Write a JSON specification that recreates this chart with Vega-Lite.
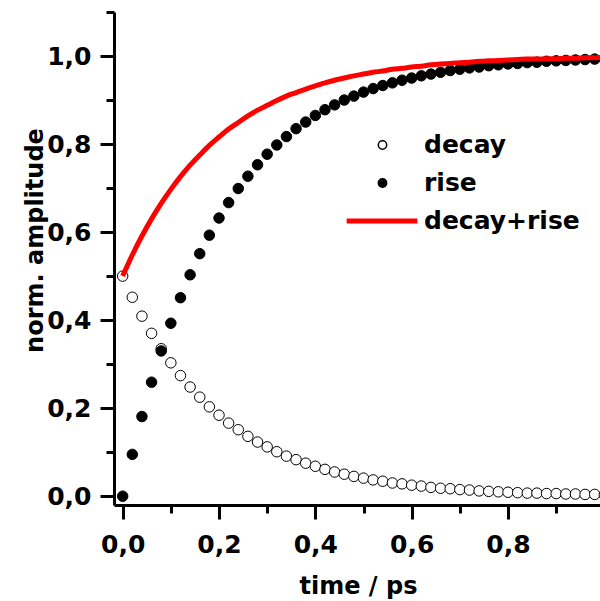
{
  "$schema": "https://vega.github.io/schema/vega-lite/v6.json",
  "autosize": {"type": "none"},
  "padding": {"left": 114, "top": 12, "right": 0, "bottom": 96},
  "width": 486,
  "height": 493,
  "background": "white",
  "config": {
    "view": {"stroke": null},
    "font": "DejaVu Sans",
    "axis": {
      "domainColor": "black",
      "domainWidth": 3,
      "tickColor": "black",
      "tickWidth": 3,
      "grid": false,
      "labelFont": "DejaVu Sans",
      "labelFontWeight": "bold",
      "labelFontSize": 25,
      "labelColor": "black",
      "titleFont": "DejaVu Sans",
      "titleFontWeight": "bold",
      "titleFontSize": 24,
      "titleColor": "black"
    },
    "legend": {
      "orient": "none",
      "padding": 0,
      "clipHeight": 30,
      "rowPadding": 8,
      "labelFont": "DejaVu Sans",
      "labelFontWeight": "bold",
      "labelFontSize": 25,
      "labelColor": "black",
      "labelLimit": 400,
      "symbolOpacity": 1
    }
  },
  "datasets": {
    "curves": [
      {"t": 0.00, "decay": 0.500, "rise": 0.000, "decay+rise": 0.500},
      {"t": 0.02, "decay": 0.452, "rise": 0.095, "decay+rise": 0.548},
      {"t": 0.04, "decay": 0.409, "rise": 0.181, "decay+rise": 0.591},
      {"t": 0.06, "decay": 0.370, "rise": 0.259, "decay+rise": 0.630},
      {"t": 0.08, "decay": 0.335, "rise": 0.330, "decay+rise": 0.665},
      {"t": 0.10, "decay": 0.303, "rise": 0.393, "decay+rise": 0.697},
      {"t": 0.12, "decay": 0.274, "rise": 0.451, "decay+rise": 0.726},
      {"t": 0.14, "decay": 0.248, "rise": 0.503, "decay+rise": 0.752},
      {"t": 0.16, "decay": 0.225, "rise": 0.551, "decay+rise": 0.775},
      {"t": 0.18, "decay": 0.203, "rise": 0.593, "decay+rise": 0.797},
      {"t": 0.20, "decay": 0.184, "rise": 0.632, "decay+rise": 0.816},
      {"t": 0.22, "decay": 0.166, "rise": 0.667, "decay+rise": 0.834},
      {"t": 0.24, "decay": 0.151, "rise": 0.699, "decay+rise": 0.849},
      {"t": 0.26, "decay": 0.136, "rise": 0.727, "decay+rise": 0.864},
      {"t": 0.28, "decay": 0.123, "rise": 0.753, "decay+rise": 0.877},
      {"t": 0.30, "decay": 0.112, "rise": 0.777, "decay+rise": 0.888},
      {"t": 0.32, "decay": 0.101, "rise": 0.798, "decay+rise": 0.899},
      {"t": 0.34, "decay": 0.091, "rise": 0.817, "decay+rise": 0.909},
      {"t": 0.36, "decay": 0.083, "rise": 0.835, "decay+rise": 0.917},
      {"t": 0.38, "decay": 0.075, "rise": 0.850, "decay+rise": 0.925},
      {"t": 0.40, "decay": 0.068, "rise": 0.865, "decay+rise": 0.932},
      {"t": 0.42, "decay": 0.061, "rise": 0.878, "decay+rise": 0.939},
      {"t": 0.44, "decay": 0.055, "rise": 0.889, "decay+rise": 0.945},
      {"t": 0.46, "decay": 0.050, "rise": 0.900, "decay+rise": 0.950},
      {"t": 0.48, "decay": 0.045, "rise": 0.909, "decay+rise": 0.955},
      {"t": 0.50, "decay": 0.041, "rise": 0.918, "decay+rise": 0.959},
      {"t": 0.52, "decay": 0.037, "rise": 0.926, "decay+rise": 0.963},
      {"t": 0.54, "decay": 0.034, "rise": 0.933, "decay+rise": 0.966},
      {"t": 0.56, "decay": 0.030, "rise": 0.939, "decay+rise": 0.970},
      {"t": 0.58, "decay": 0.028, "rise": 0.945, "decay+rise": 0.972},
      {"t": 0.60, "decay": 0.025, "rise": 0.950, "decay+rise": 0.975},
      {"t": 0.62, "decay": 0.023, "rise": 0.955, "decay+rise": 0.977},
      {"t": 0.64, "decay": 0.020, "rise": 0.959, "decay+rise": 0.980},
      {"t": 0.66, "decay": 0.018, "rise": 0.963, "decay+rise": 0.982},
      {"t": 0.68, "decay": 0.017, "rise": 0.967, "decay+rise": 0.983},
      {"t": 0.70, "decay": 0.015, "rise": 0.970, "decay+rise": 0.985},
      {"t": 0.72, "decay": 0.014, "rise": 0.973, "decay+rise": 0.986},
      {"t": 0.74, "decay": 0.012, "rise": 0.975, "decay+rise": 0.988},
      {"t": 0.76, "decay": 0.011, "rise": 0.978, "decay+rise": 0.989},
      {"t": 0.78, "decay": 0.010, "rise": 0.980, "decay+rise": 0.990},
      {"t": 0.80, "decay": 0.009, "rise": 0.982, "decay+rise": 0.991},
      {"t": 0.82, "decay": 0.008, "rise": 0.983, "decay+rise": 0.992},
      {"t": 0.84, "decay": 0.007, "rise": 0.985, "decay+rise": 0.993},
      {"t": 0.86, "decay": 0.007, "rise": 0.986, "decay+rise": 0.993},
      {"t": 0.88, "decay": 0.006, "rise": 0.988, "decay+rise": 0.994},
      {"t": 0.90, "decay": 0.006, "rise": 0.989, "decay+rise": 0.994},
      {"t": 0.92, "decay": 0.005, "rise": 0.990, "decay+rise": 0.995},
      {"t": 0.94, "decay": 0.005, "rise": 0.991, "decay+rise": 0.995},
      {"t": 0.96, "decay": 0.004, "rise": 0.992, "decay+rise": 0.996},
      {"t": 0.98, "decay": 0.004, "rise": 0.993, "decay+rise": 0.996},
      {"t": 1.00, "decay": 0.003, "rise": 0.993, "decay+rise": 0.997}
    ]
  },
  "data": {"name": "curves"},
  "transform": [
    {"fold": ["decay", "rise", "decay+rise"], "as": ["series", "amplitude"]}
  ],
  "encoding": {
    "x": {
      "field": "t",
      "type": "quantitative",
      "scale": {"domain": [-0.018, 0.991], "nice": false, "zero": false},
      "axis": {
        "title": "time / ps",
        "values": [0, 0.1, 0.2, 0.3, 0.4, 0.5, 0.6, 0.7, 0.8, 0.9, 1.0],
        "labelExpr": "round(datum.value * 10) % 2 == 0 ? replace(format(datum.value, '.1f'), '.', ',') : ''",
        "tickSize": {"condition": {"test": "round(datum.value * 10) % 2 == 0", "value": 14}, "value": 8},
        "labelPadding": 33,
        "labelBaseline": "alphabetic",
        "labelFlush": false,
        "labelOverlap": false,
        "titleX": 244,
        "titleY": 88,
        "titleAlign": "center",
        "titleBaseline": "alphabetic"
      }
    },
    "y": {
      "field": "amplitude",
      "type": "quantitative",
      "scale": {"domain": [-0.02, 1.1], "nice": false, "zero": false},
      "axis": {
        "title": "norm. amplitude",
        "values": [0, 0.1, 0.2, 0.3, 0.4, 0.5, 0.6, 0.7, 0.8, 0.9, 1.0, 1.1],
        "labelExpr": "round(datum.value * 10) % 2 == 0 ? replace(format(datum.value, '.1f'), '.', ',') : ''",
        "tickSize": {"condition": {"test": "round(datum.value * 10) % 2 == 0", "value": 14}, "value": 8},
        "labelPadding": 9,
        "labelBaseline": "middle",
        "labelFlush": false,
        "labelOverlap": false,
        "titleX": -72,
        "titleY": 228,
        "titleAngle": 270,
        "titleAlign": "center",
        "titleBaseline": "alphabetic"
      }
    }
  },
  "layer": [
    {
      "data": {"values": [{}]},
      "mark": {"type": "rule", "color": "black", "strokeWidth": 3},
      "encoding": {"y": {"datum": 1.1}}
    },
    {
      "transform": [{"filter": "datum.series != 'decay+rise'"}],
      "mark": {"type": "point", "shape": "circle", "filled": false, "opacity": 1, "size": 110, "strokeWidth": 1, "clip": true},
      "encoding": {
        "fill": {
          "field": "series", "type": "nominal",
          "scale": {"domain": ["decay", "rise"], "range": ["white", "black"]},
          "legend": {
            "title": null,
            "legendX": 256,
            "legendY": 118,
            "symbolSize": 70,
            "labelOffset": 29
          }
        },
        "stroke": {
          "field": "series", "type": "nominal",
          "scale": {"domain": ["decay", "rise"], "range": ["black", "black"]},
          "legend": {
            "title": null,
            "legendX": 256,
            "legendY": 118,
            "symbolSize": 70,
            "labelOffset": 29
          }
        }
      }
    },
    {
      "transform": [{"filter": "datum.series == 'decay+rise'"}],
      "mark": {"type": "line", "interpolate": "monotone", "strokeWidth": 5, "clip": true},
      "encoding": {
        "color": {
          "field": "series", "type": "nominal",
          "scale": {"domain": ["decay+rise"], "range": ["#ff0000"]},
          "legend": {
            "title": null,
            "legendX": 230,
            "legendY": 194,
            "symbolType": "stroke",
            "symbolSize": 5000,
            "symbolStrokeWidth": 5,
            "labelOffset": 4
          }
        }
      }
    }
  ]
}
